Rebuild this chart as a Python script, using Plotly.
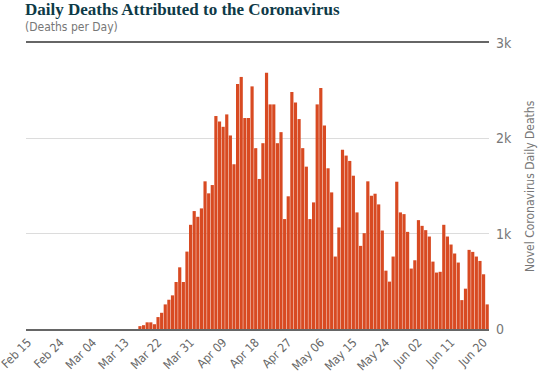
import pandas as pd
import plotly.graph_objects as go

start_date = "2020-02-15"
deaths = [0] * 31 + [
    30, 40, 70, 70, 50, 125, 170, 258, 307, 353,
    493, 647, 493, 812, 1093, 1237, 1177, 1265, 1549, 1423,
    1510, 2234, 2177, 2121, 2251, 2030, 1728, 2570, 2644, 2213,
    2213, 2545, 1897, 1574, 1949, 2689, 2356, 2356, 1949, 2065,
    1153, 1392, 2486, 2377, 2202, 1897, 1703, 1153, 1328, 2356,
    2528, 2135, 1686, 1433, 760, 1065, 1879, 1819, 1763, 1608,
    1223, 872, 1005, 1549, 1398, 1419, 1307, 1033, 612, 497,
    760, 1545, 1223, 1205, 1019, 634, 721, 1142, 1082, 1037,
    970, 707, 592, 600, 1093, 970, 886, 792, 697, 303,
    423, 830, 809, 760, 714, 574, 258,
]
dates = pd.date_range(start_date, periods=len(deaths), freq="D")
tick_dates = dates[::9]
y_tickvals = [0, 1000, 2000, 3000]
y_ticktext = ["0", "1k", "2k", "3k"]

title_text = "Daily Deaths Attributed to the Coronavirus"
subtitle_text = "(Deaths per Day)"
y_title = "Novel Coronavirus Daily Deaths"

COND = "DejaVu Sans Condensed"


def cfont(size, color):
    return dict(family=COND, size=size, color=color)


fig = go.Figure(
    go.Bar(
        x=dates,
        y=deaths,
        marker=dict(color="#D84A22", line=dict(width=0)),
        hoverinfo="x+y",
    )
)

fig.update_layout(
    width=540,
    height=377,
    margin=dict(l=26, r=51, t=43, b=48, autoexpand=False),
    paper_bgcolor="white",
    plot_bgcolor="white",
    bargap=0.12,
    showlegend=False,
    xaxis=dict(
        range=[dates[0] - pd.Timedelta(hours=12), dates[-1] + pd.Timedelta(hours=12)],
        tickvals=list(tick_dates),
        tickformat="%b %d",
        tickangle=-45,
        tickfont=cfont(12, "#666"),
        ticklabeloverflow="allow",
        automargin=False,
        showgrid=False,
        showline=True,
        linecolor="#666",
        linewidth=1.5,
        mirror=True,
        ticks="",
        zeroline=False,
    ),
    yaxis=dict(
        side="right",
        range=[0, 3000],
        tickvals=y_tickvals,
        ticktext=y_ticktext,
        tickfont=cfont(14, "#777"),
        automargin=False,
        showgrid=True,
        gridcolor="#dcdcdc",
        gridwidth=1,
        zeroline=False,
        ticks="",
        ticklabelstandoff=6,
    ),
    annotations=[
        dict(
            text="<b>" + title_text + "</b>",
            xref="paper", yref="paper", x=0, y=1,
            xanchor="left", yanchor="middle", xshift=-3, yshift=34, showarrow=False,
            font=dict(family="Liberation Serif, DejaVu Serif, serif", size=17, color="#0E3A47"),
        ),
        dict(
            text=subtitle_text,
            xref="paper", yref="paper", x=0, y=1,
            xanchor="left", yanchor="middle", xshift=-3, yshift=16, showarrow=False,
            font=cfont(12, "#777"),
        ),
        dict(
            text=y_title,
            xref="paper", yref="paper", x=1, y=0.5,
            xanchor="center", yanchor="middle", xshift=41, textangle=-90,
            showarrow=False,
            font=cfont(12, "#777"),
        ),
    ],
)

fig.write_html(
    "out.html",
    config={"displayModeBar": False},
    post_script="document.body.style.margin='0';document.body.style.overflow='hidden';",
)
